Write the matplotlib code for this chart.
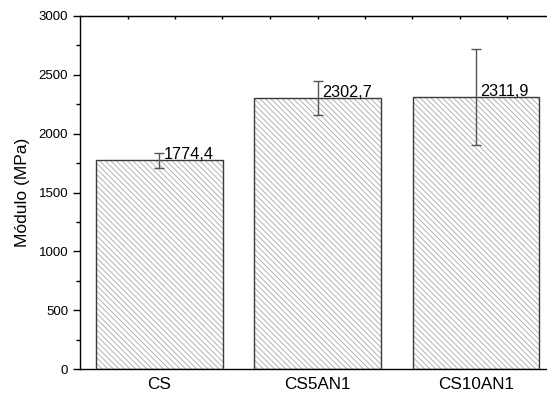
import numpy as np
import matplotlib
matplotlib.use("Agg")
import matplotlib.pyplot as plt
from matplotlib.ticker import MultipleLocator, FixedLocator

plt.rcParams["font.family"] = ["Liberation Sans", "DejaVu Sans"]
plt.rcParams["hatch.linewidth"] = 0.6

categories = ["CS", "CS5AN1", "CS10AN1"]
modulus = [1774.4, 2302.7, 2311.9]
errors = [64, 145, 404]
labels = ["1774,4", "2302,7", "2311,9"]

fig = plt.figure(figsize=(5.47, 3.94), dpi=100)
ax = fig.add_axes([80 / 547, 25 / 394, 475 / 547, 353 / 394])

x = np.arange(len(categories))
# hatch layer (gray) then outline layer (dark)
ax.bar(x, modulus, width=0.8, color="white", edgecolor="#a8a8a8",
       hatch="\\\\\\\\\\\\", linewidth=0, zorder=2)
ax.bar(x, modulus, width=0.8, fill=False, edgecolor="#3a3a3a",
       linewidth=1.0, zorder=3)
ax.errorbar(x, modulus, yerr=errors, fmt="none", ecolor="#555555",
            elinewidth=1.0, capsize=3.5, capthick=1.0, zorder=4)

for xi, v, lab in zip(x, modulus, labels):
    ax.text(xi + 0.03, v - 15, lab, ha="left", va="bottom", fontsize=11.7, zorder=5)

ax.set_xlim(-0.5, 2.5)
ax.set_ylim(0, 3000)
ax.set_xticks(x)
ax.set_xticklabels(categories, fontsize=12.3)
ax.tick_params(axis="x", length=0, pad=6)
ax.yaxis.set_major_locator(MultipleLocator(500))
ax.yaxis.set_minor_locator(MultipleLocator(250))
ax.tick_params(axis="y", which="major", direction="out", length=5, width=1, labelsize=9.5)
ax.tick_params(axis="y", which="minor", direction="out", length=3, width=1)
ax.set_ylabel("Módulo (MPa)", fontsize=12.5, labelpad=6)

# small inward ticks along the top spine
top = ax.secondary_xaxis("top")
top.xaxis.set_major_locator(FixedLocator(np.arange(-0.2, 2.6, 0.3)))
top.tick_params(direction="in", length=2.5, width=1, labeltop=False)

for s in ax.spines.values():
    s.set_linewidth(1.0)
ax.spines["right"].set_visible(False)

fig.savefig("out.png", dpi=100)
